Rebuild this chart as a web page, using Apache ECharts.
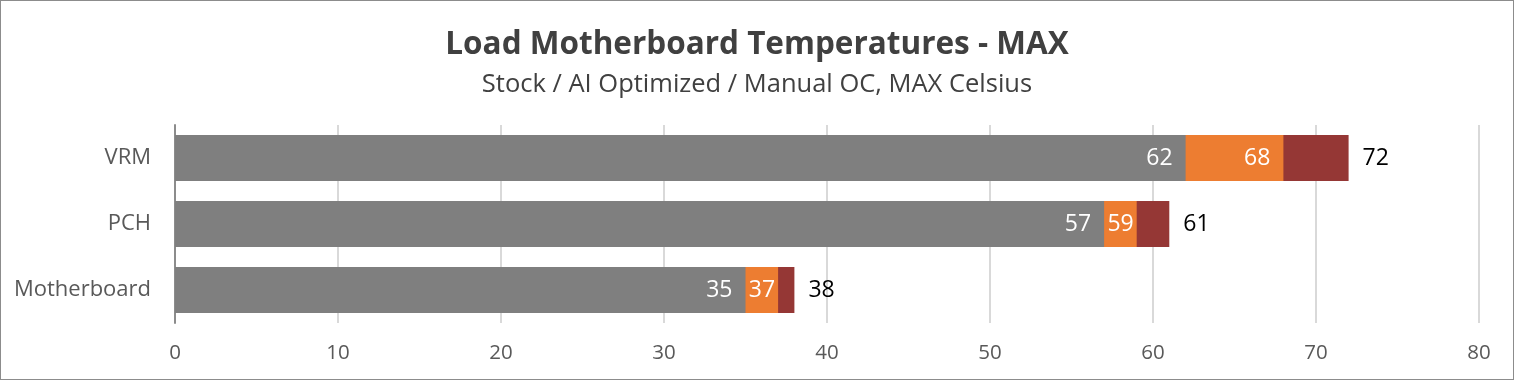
<!DOCTYPE html>
<html>
<head>
<meta charset="utf-8">
<script src="https://cdn.jsdelivr.net/npm/echarts@6/dist/echarts.min.js"></script>
<style>
html,body{margin:0;padding:0;background:#fff;}
#c{width:1514px;height:380px;box-sizing:border-box;border:1px solid #8c8c8c;}
</style>
</head>
<body>
<div id="c"></div>
<script>
var categories = ['Motherboard', 'PCH', 'VRM'];
var stock = [35, 57, 62];
var aiOptimized = [37, 59, 68];
var manualOC = [38, 61, 72];
var xTicks = [0, 10, 20, 30, 40, 50, 60, 70, 80];

var FONT = 'Open Sans';
var PX_PER_UNIT = 1304 / 80;
var LABEL_W = 27;

// keep inner labels inside their visible segment (like Excel's inside-end)
function insideData(vals, prev) {
  return vals.map(function (v, i) {
    var seg = (v - (prev ? prev[i] : 0)) * PX_PER_UNIT;
    var d = Math.max(2, Math.min(13, Math.round((seg - LABEL_W) / 2)));
    return {value: v, label: {distance: d}};
  });
}

var chart = echarts.init(document.getElementById('c'), null, {renderer: 'canvas'});
chart.setOption({
  animation: false,
  title: {
    text: 'Load Motherboard Temperatures - MAX',
    subtext: 'Stock / AI Optimized / Manual OC, MAX Celsius',
    left: 'center',
    top: 23,
    itemGap: 11,
    textStyle: {fontFamily: FONT, fontSize: 31.5, fontWeight: 'bold', color: '#404040'},
    subtextStyle: {fontFamily: FONT, fontSize: 25.5, color: '#404040'}
  },
  grid: {left: 174, right: 34, top: 124, height: 198, containLabel: false},
  xAxis: {
    type: 'value',
    min: xTicks[0],
    max: xTicks[xTicks.length - 1],
    interval: 10,
    axisLine: {show: false},
    axisTick: {show: false},
    splitLine: {show: true, lineStyle: {color: '#d9d9d9', width: 2}},
    axisLabel: {fontFamily: FONT, fontSize: 20.5, color: '#595959', margin: 20}
  },
  yAxis: {
    type: 'category',
    data: categories,
    axisLine: {show: true, lineStyle: {color: '#8c8c8c', width: 2}},
    axisTick: {show: false},
    axisLabel: {fontFamily: FONT, fontSize: 22, color: '#595959', margin: 24}
  },
  series: [
    {
      name: 'Manual OC', type: 'bar', data: manualOC, barWidth: 46, barGap: '-100%',
      itemStyle: {color: '#953735'},
      label: {show: true, position: 'right', distance: 14, fontFamily: FONT, fontSize: 23, color: '#000'}
    },
    {
      name: 'AI Optimized', type: 'bar', data: insideData(aiOptimized, stock), barWidth: 46, barGap: '-100%',
      itemStyle: {color: '#ed7d31'},
      label: {show: true, position: 'insideRight', fontFamily: FONT, fontSize: 23, color: '#fff'}
    },
    {
      name: 'Stock', type: 'bar', data: insideData(stock, null), barWidth: 46, barGap: '-100%',
      itemStyle: {color: '#7f7f7f'},
      label: {show: true, position: 'insideRight', fontFamily: FONT, fontSize: 23, color: '#fff'}
    }
  ]
});
</script>
</body>
</html>
